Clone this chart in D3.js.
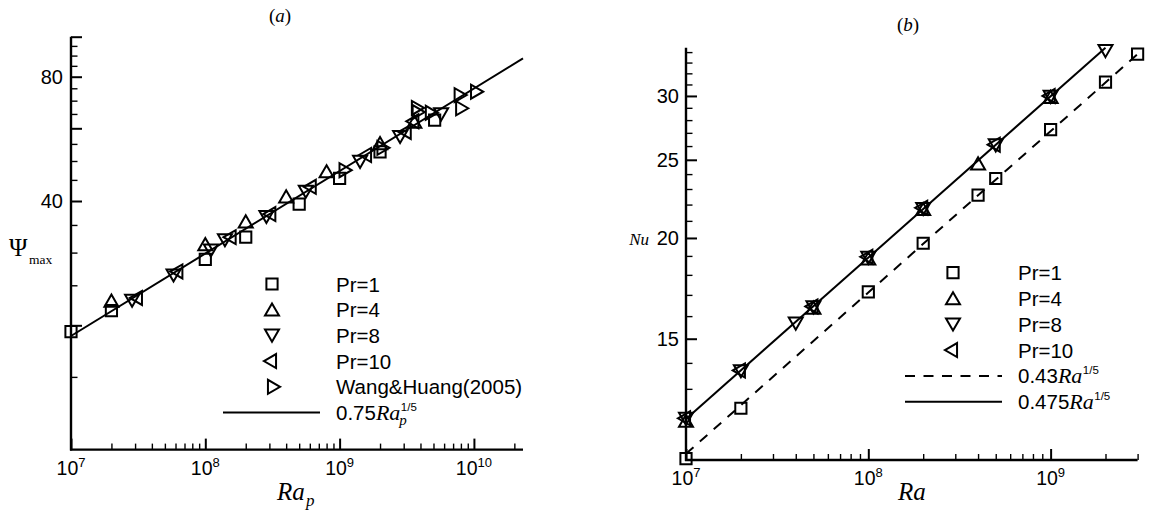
<!DOCTYPE html>
<html><head><meta charset="utf-8">
<script src="https://cdn.jsdelivr.net/npm/d3@7"></script>
<style>body{margin:0;background:#fff}svg{display:block}</style>
</head><body>
<svg id="c" width="1150" height="514"></svg>
<script>
// ---------- Panel (a) data: [Ra_p, Psi_max] ----------
const psiPr1  = [[1e7,19.3],[2e7,21.7],[1e8,28.9],[2e8,32.7],[5e8,39.3],[1e9,45.4],[2e9,52.6],[5.1e9,62.8]];
const psiPr4  = [[2e7,22.7],[1e8,31.1],[2e8,35.3],[4e8,40.6],[8e8,46.7],[2e9,54.6],[3.6e9,61.6]];
const psiPr8  = [[2.85e7,23.2],[5.8e7,26.7],[1.1e8,30.7],[1.4e8,32.5],[2.85e8,37.0],[5.6e8,42.6],[1.42e9,50.3],[2.82e9,57.8],[5.7e9,65.6]];
const psiPr10 = [[3.15e7,23.3],[6.3e7,27.0],[1.57e8,32.7],[3.1e8,37.2],[6.2e8,43.3],[1.6e9,51.7],[3.16e9,58.8],[3.6e9,62.4]];
const psiWang = [[1.07e9,47.5],[2.05e9,53.8],[3.7e9,67.2],[3.75e9,65.7],[4.7e9,65.4],[7.7e9,72.2],[7.9e9,67.1],[1.02e10,73.6]];
const fitA    = [[1e7,18.84],[2.32e10,88.6]];          // 0.75 Ra_p^(1/5)

// ---------- Panel (b) data: [Ra, Nu] ----------
const nuPr1  = [[1e7,10.65],[2e7,12.3],[1e8,17.15],[2e8,19.7],[4e8,22.6],[5e8,23.7],[1e9,27.25],[2e9,31.2],[3e9,33.8]];
const nuPr4  = [[1e7,11.8],[5e7,16.3],[1e8,18.75],[2e8,21.6],[4e8,24.6],[1e9,29.75]];
const nuPr8  = [[1e7,12.0],[2e7,13.75],[4e7,15.75],[5e7,16.5],[1e8,19.0],[2e8,21.85],[5e8,26.2],[1e9,30.1],[2e9,34.3]];
const nuPr10 = [[1e7,11.95],[2e7,13.7],[5e7,16.45],[1e8,18.95],[2e8,21.8],[5e8,26.1],[1e9,30.0]];
const fitB043  = [[1e7,10.80],[3e9,33.80]];             // 0.43 Ra^(1/5)
const fitB0475 = [[1e7,11.93],[2e9,34.43]];             // 0.475 Ra^(1/5)

// ---------- ticks ----------
const xMajorA = [1e7,1e8,1e9,1e10];
const xMinorA = [2e7,3e7,4e7,5e7,6e7,7e7,8e7,9e7,2e8,3e8,4e8,5e8,6e8,7e8,8e8,9e8,2e9,3e9,4e9,5e9,6e9,7e9,8e9,9e9,2e10];
const yMajorA = [20,40,60,80,100];
const yMinorA = [15,25,30,35,45,50,55,65,70,75,85,90,95];
const yLabelA = [40,80];
const xMajorB = [1e7,1e8,1e9];
const xMinorB = [2e7,3e7,4e7,5e7,6e7,7e7,8e7,9e7,2e8,3e8,4e8,5e8,6e8,7e8,8e8,9e8,2e9,3e9];
const yMajorB = [15,20,25,30];
const yMinorB = [13,14,16,17,18,19,21,22,23,24,26,27,28,29,31,32,33,34];

const legendA = ["Pr=1","Pr=4","Pr=8","Pr=10","Wang&Huang(2005)"];
const legendB = ["Pr=1","Pr=4","Pr=8","Pr=10"];

const SANS = "'Liberation Sans', Arial, Helvetica, sans-serif";
const SERIF = "'Liberation Serif', 'Times New Roman', serif";

const svg = d3.select("#c");

const xA = d3.scaleLog().domain([1e7,2.32e10]).range([71,523]);
const yA = d3.scaleLog().domain([10,100]).range([449.6,36.7]);
const xB = d3.scaleLog().domain([1e7,3e9]).range([686,1137.6]);
const yB = d3.scaleLog().domain([10.61,34.43]).range([460,47.7]);

function symPath(type){
  const s=5.6, R=8.1, h=4.05, b=7;
  switch(type){
    case "square": return `M${-s},${-s}H${s}V${s}H${-s}Z`;
    case "up":     return `M0,${-R}L${b},${h}L${-b},${h}Z`;
    case "down":   return `M0,${R}L${b},${-h}L${-b},${-h}Z`;
    case "left":   return `M${-R},0L${h},${-b}L${h},${b}Z`;
    case "right":  return `M${R},0L${-h},${-b}L${-h},${b}Z`;
  }
}

function axes(x, y, xMaj, xMin, yMaj, yMin){
  const g = svg.append("g");
  const [x0,x1] = x.range(), [y0,y1] = y.range();
  const styleTicks = (sel, w) => { sel.select(".domain").remove(); sel.selectAll("line").attr("stroke","#000").attr("stroke-width",w); };
  g.append("g").attr("transform",`translate(0,${y0})`)
    .call(d3.axisBottom(x).tickValues(xMaj).tickSize(-11).tickSizeOuter(0).tickFormat(""))
    .call(s=>styleTicks(s,2));
  g.append("g").attr("transform",`translate(0,${y0})`)
    .call(d3.axisBottom(x).tickValues(xMin).tickSize(-6).tickSizeOuter(0).tickFormat(""))
    .call(s=>styleTicks(s,1.4));
  g.append("g").attr("transform",`translate(${x0},0)`)
    .call(d3.axisLeft(y).tickValues(yMaj).tickSize(-11).tickSizeOuter(0).tickFormat(""))
    .call(s=>styleTicks(s,2));
  g.append("g").attr("transform",`translate(${x0},0)`)
    .call(d3.axisLeft(y).tickValues(yMin).tickSize(-6.5).tickSizeOuter(0).tickFormat(""))
    .call(s=>styleTicks(s,1.4));
  g.append("line").attr("x1",x0-1).attr("x2",x1).attr("y1",y0).attr("y2",y0).attr("stroke","#000").attr("stroke-width",2.4);
  g.append("line").attr("x1",x0).attr("x2",x0).attr("y1",y0+1).attr("y2",y1).attr("stroke","#000").attr("stroke-width",2.4);
  xMaj.forEach(v=>{
    const t = g.append("text").attr("x",x(v)).attr("y",y0+25).attr("text-anchor","middle")
      .attr("font-family",SANS).attr("font-size",19.5);
    t.append("tspan").text("10");
    t.append("tspan").attr("dy",-8).attr("font-size",13).text(Math.round(Math.log10(v)));
  });
  return g;
}

function markers(g, x, y, data, type){
  g.selectAll(null).data(data).enter().append("path")
    .attr("d",symPath(type))
    .attr("transform",d=>`translate(${x(d[0])},${y(d[1])})`)
    .attr("fill","none").attr("stroke","#000").attr("stroke-width",2).attr("stroke-linejoin","miter");
}

function fitLine(g, x, y, data, dash){
  const ln = d3.line().x(d=>x(d[0])).y(d=>y(d[1]));
  const p = g.append("path").attr("d",ln(data)).attr("fill","none").attr("stroke","#000").attr("stroke-width",2);
  if(dash) p.attr("stroke-dasharray",dash);
}

// ================= Panel (a) =================
const gA = axes(xA, yA, xMajorA, xMinorA, yMajorA, yMinorA);
yLabelA.forEach(v=>{
  gA.append("text").attr("x",63).attr("y",yA(v)).attr("dy","0.36em").attr("text-anchor","end")
    .attr("font-family",SANS).attr("font-size",20).text(v);
});
fitLine(gA, xA, yA, fitA);
markers(gA, xA, yA, psiPr1, "square");
markers(gA, xA, yA, psiPr4, "up");
markers(gA, xA, yA, psiPr8, "down");
markers(gA, xA, yA, psiPr10, "left");
markers(gA, xA, yA, psiWang, "right");

svg.append("text").attr("x",280).attr("y",22).attr("text-anchor","middle").attr("font-family",SERIF).attr("font-size",19)
  .call(t=>{t.append("tspan").text("(");t.append("tspan").attr("font-style","italic").text("a");t.append("tspan").text(")");});
svg.append("text").attr("x",277).attr("y",500).attr("font-family",SERIF).attr("font-style","italic").attr("font-size",25).text("Ra");
svg.append("text").attr("x",306).attr("y",506).attr("font-family",SERIF).attr("font-style","italic").attr("font-size",17).text("p");
svg.append("text").attr("x",9).attr("y",256).attr("font-family",SERIF).attr("font-size",25).text("Ψ");
svg.append("text").attr("x",29).attr("y",264).attr("font-family",SERIF).attr("font-size",13.5).text("max");

// legend (a)
const typesA = ["square","up","down","left","right"];
legendA.forEach((lab,i)=>{
  const yy = 284 + i*25.7;
  gA.append("path").attr("d",symPath(typesA[i])).attr("transform",`translate(272,${yy + (i===1?1.8:(i===2?-1.8:0))})`)
    .attr("fill","none").attr("stroke","#000").attr("stroke-width",2);
  gA.append("text").attr("x",336).attr("y",yy+7.5).attr("font-family",SANS).attr("font-size",20.5).text(lab);
});
{
  const yy = 284 + 5*25.7;
  gA.append("line").attr("x1",223).attr("x2",320).attr("y1",yy).attr("y2",yy).attr("stroke","#000").attr("stroke-width",2);
  const t = gA.append("text").attr("x",336).attr("y",yy+7.5).attr("font-family",SANS).attr("font-size",20.5);
  t.append("tspan").text("0.75");
  t.append("tspan").attr("font-family",SERIF).attr("font-style","italic").attr("font-size",22).text("Ra");
  const w = t.node().getComputedTextLength();
  gA.append("text").attr("x",336+w+0.5).attr("y",yy-1.5).attr("font-family",SANS).attr("font-size",11.5).text("1/5");
  gA.append("text").attr("x",336+w-1).attr("y",yy+12).attr("font-family",SERIF).attr("font-style","italic").attr("font-size",15).text("p");
}

// ================= Panel (b) =================
const gB = axes(xB, yB, xMajorB, xMinorB, yMajorB, yMinorB);
yMajorB.forEach(v=>{
  gB.append("text").attr("x",679).attr("y",yB(v)).attr("dy","0.36em").attr("text-anchor","end")
    .attr("font-family",SANS).attr("font-size",20).text(v);
});
fitLine(gB, xB, yB, fitB043, "10,8.5");
fitLine(gB, xB, yB, fitB0475);
markers(gB, xB, yB, nuPr1, "square");
markers(gB, xB, yB, nuPr4, "up");
markers(gB, xB, yB, nuPr8, "down");
markers(gB, xB, yB, nuPr10, "left");

svg.append("text").attr("x",908).attr("y",31).attr("text-anchor","middle").attr("font-family",SERIF).attr("font-size",19)
  .call(t=>{t.append("tspan").text("(");t.append("tspan").attr("font-style","italic").text("b");t.append("tspan").text(")");});
svg.append("text").attr("x",898).attr("y",500).attr("font-family",SERIF).attr("font-style","italic").attr("font-size",25).text("Ra");
svg.append("text").attr("x",649).attr("y",245).attr("text-anchor","end").attr("font-family",SERIF).attr("font-style","italic").attr("font-size",17).text("Nu");

// legend (b)
const typesB = ["square","up","down","left"];
legendB.forEach((lab,i)=>{
  const yy = 272.7 + i*25.8;
  gB.append("path").attr("d",symPath(typesB[i])).attr("transform",`translate(953,${yy + (i===1?1.8:(i===2?-1.8:0))})`)
    .attr("fill","none").attr("stroke","#000").attr("stroke-width",2);
  gB.append("text").attr("x",1018).attr("y",yy+7.5).attr("font-family",SANS).attr("font-size",20.5).text(lab);
});
[["0.43", "10,8.5"],["0.475", null]].forEach(([c,dash],k)=>{
  const yy = 272.7 + (4+k)*25.8;
  const l = gB.append("line").attr("x1",905).attr("x2",1002).attr("y1",yy).attr("y2",yy).attr("stroke","#000").attr("stroke-width",2);
  if(dash) l.attr("stroke-dasharray",dash);
  const t = gB.append("text").attr("x",1018).attr("y",yy+7.5).attr("font-family",SANS).attr("font-size",20.5);
  t.append("tspan").text(c);
  t.append("tspan").attr("font-family",SERIF).attr("font-style","italic").attr("font-size",22).text("Ra");
  const w = t.node().getComputedTextLength();
  gB.append("text").attr("x",1018+w+0.5).attr("y",yy-1.5).attr("font-family",SANS).attr("font-size",11.5).text("1/5");
});
</script>
</body></html>
